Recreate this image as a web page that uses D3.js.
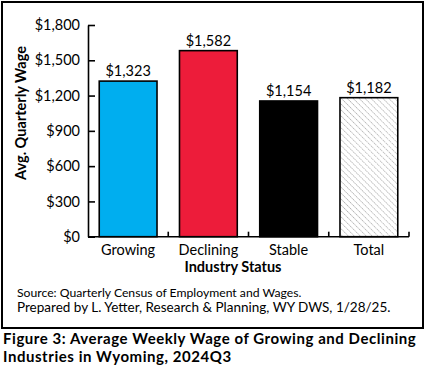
<!DOCTYPE html>
<html>
<head>
<meta charset="utf-8">
<script src="https://cdn.jsdelivr.net/npm/d3@7"></script>
<style>
  body { margin: 0; background: #fff; }
  svg { display: block; font-family: Lato, "Open Sans", sans-serif; }
</style>
</head>
<body>
<div id="chart"></div>
<script>
var W = 425, H = 371;

// data
var categories = ['Growing', 'Declining', 'Stable', 'Total'];
var wages = [1323, 1582, 1154, 1182];
var barColors = ['#00aeef', '#ed1c3a', '#000000', 'url(#hatch)'];
var yTicks = [0, 300, 600, 900, 1200, 1500, 1800];

var margin = {left: 88, right: 16, top: 25, bottom: 134};
var plotRight = 409;

var svg = d3.select('#chart').append('svg').attr('width', W).attr('height', H);

// hatch pattern for Total (thin grey dotted lines, top-left to bottom-right)
var defs = svg.append('defs');
var pat = defs.append('pattern')
  .attr('id', 'hatch')
  .attr('patternUnits', 'userSpaceOnUse')
  .attr('width', 4.2).attr('height', 4.2)
  .attr('patternTransform', 'rotate(45)');
pat.append('rect').attr('width', 4.2).attr('height', 4.2).attr('fill', '#fff');
pat.append('line').attr('x1', 0).attr('y1', 0).attr('x2', 4.2).attr('y2', 0)
  .attr('stroke', '#9a9a9a').attr('stroke-width', 1.1).attr('stroke-dasharray', '1.4,0.7');

// outer frame
svg.append('rect')
  .attr('x', 2).attr('y', 2).attr('width', W - 4).attr('height', 326)
  .attr('fill', 'none').attr('stroke', '#000').attr('stroke-width', 2);

var x = d3.scaleBand().domain(categories)
  .range([margin.left, plotRight]).paddingInner(0.28).paddingOuter(0.14);
var y = d3.scaleLinear().domain([0, 1800]).range([236.7, margin.top]);

var fmt = function(d) { return '$' + d3.format(',')(d); };

// bars
svg.selectAll('rect.bar')
  .data(wages)
  .enter()
  .append('rect')
  .attr('class', 'bar')
  .attr('x', function(d, i) { return x(categories[i]); })
  .attr('y', function(d) { return y(d); })
  .attr('width', x.bandwidth())
  .attr('height', function(d) { return y(0) - y(d); })
  .attr('fill', function(d, i) { return barColors[i]; })
  .attr('stroke', '#000')
  .attr('stroke-width', 1.6);

// value labels
svg.selectAll('text.val')
  .data(wages)
  .enter()
  .append('text')
  .attr('class', 'val')
  .attr('x', function(d, i) { return x(categories[i]) + x.bandwidth() / 2; })
  .attr('y', function(d) { return y(d) - 5; })
  .attr('text-anchor', 'middle')
  .attr('font-size', 14.5)
  .text(fmt);

// y axis, ticks pointing inward
var yAxis = svg.append('g').attr('transform', 'translate(' + margin.left + ',0)')
  .call(d3.axisLeft(y).tickValues(yTicks).tickFormat(fmt).tickSizeInner(-7).tickSizeOuter(0).tickPadding(8));
yAxis.select('.domain').attr('stroke-width', 1.6);
yAxis.selectAll('.tick line').attr('stroke-width', 1.6);
yAxis.selectAll('text').attr('font-size', 14.5).attr('fill', '#000').attr('font-family', 'Lato');

// x axis
var xAxis = svg.append('g').attr('transform', 'translate(0,' + y(0) + ')')
  .call(d3.axisBottom(x).tickSize(0).tickPadding(8));
xAxis.select('.domain').attr('d', 'M' + margin.left + ',0H' + plotRight).attr('stroke-width', 1.6);
xAxis.selectAll('text').attr('font-size', 14.5).attr('fill', '#000').attr('font-family', 'Lato');

// separator ticks between categories, pointing up into the plot
var sepX = categories.map(function(c) { return x(c) + x.bandwidth() + x.step() * x.paddingInner() / 2; });
sepX[sepX.length - 1] = plotRight;
svg.selectAll('line.sep')
  .data(sepX)
  .enter()
  .append('line')
  .attr('class', 'sep')
  .attr('x1', function(d) { return d; }).attr('x2', function(d) { return d; })
  .attr('y1', y(0)).attr('y2', y(0) - 5)
  .attr('stroke', '#000').attr('stroke-width', 1.6);

// axis titles
svg.append('text')
  .attr('transform', 'translate(26,113) rotate(-90)')
  .attr('text-anchor', 'middle')
  .attr('font-size', 14.5).attr('font-weight', 'bold')
  .text('Avg. Quarterly Wage');

svg.append('text')
  .attr('x', 233).attr('y', 272)
  .attr('text-anchor', 'middle')
  .attr('font-size', 14.5).attr('font-weight', 'bold')
  .text('Industry Status');

// notes
svg.append('text').attr('x', 17).attr('y', 297).attr('font-size', 12.2)
  .text('Source: Quarterly Census of Employment and Wages.');
svg.append('text').attr('x', 17).attr('y', 312).attr('font-size', 13.5)
  .text('Prepared by L. Yetter, Research & Planning, WY DWS, 1/28/25.');

// figure caption
svg.append('text').attr('x', 3).attr('y', 344)
  .attr('font-size', 15).attr('font-weight', 'bold').attr('letter-spacing', 0.55)
  .text('Figure 3: Average Weekly Wage of Growing and Declining');
svg.append('text').attr('x', 3).attr('y', 362)
  .attr('font-size', 15).attr('font-weight', 'bold').attr('letter-spacing', 0.55)
  .text('Industries in Wyoming, 2024Q3');
</script>
</body>
</html>
